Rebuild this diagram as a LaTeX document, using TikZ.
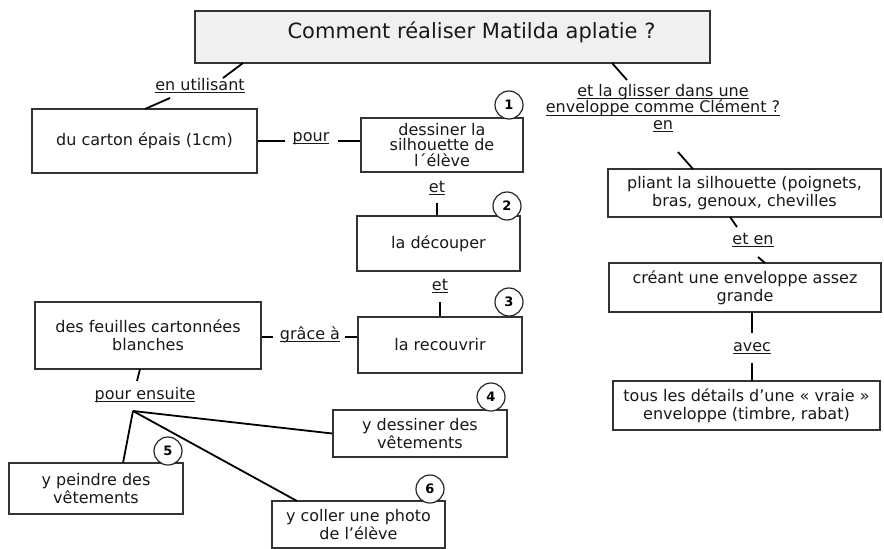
\documentclass[tikz,border=0pt]{standalone}
\usepackage{fontspec}
\setmainfont{DejaVu Sans}
\newcommand\ulab[1]{\setbox0=\hbox{#1}\rlap{\rule[-2.6pt]{\wd0}{0.9pt}}\box0}
\tikzset{
  box/.style={draw=black!80, line width=1.6pt, fill=white, align=center, inner sep=0pt,
    font=\fontsize{16}{18}\selectfont, text=black!90},
  titlebox/.style={box, fill=black!6},
  lbl/.style={font=\fontsize{16}{16.5}\selectfont, align=center, inner sep=0pt, text=black!90,
    text height=12pt, text depth=3pt},
  mlbl/.style={font=\fontsize{16}{16.5}\selectfont, align=center, inner sep=0pt, text=black!90},
  num/.style={circle, draw=black!85, line width=1.2pt, fill=white, minimum size=28pt,
    inner sep=0pt, font=\fontsize{13}{13}\selectfont\bfseries},
  link/.style={line width=1.8pt, black}
}
\begin{document}
\begin{tikzpicture}[x=1pt,y=-1pt]
\useasboundingbox (0,0) rectangle (884,549);
% boxes
\node[titlebox, minimum width=515pt, minimum height=52pt] (title) at (452.5,37) {};
\node[inner sep=0pt, font=\fontsize{21}{24}\selectfont, text=black!90] (ttext) at (471.5,32) {Comment réaliser Matilda aplatie ?};
\node[box, minimum width=225pt, minimum height=64pt] (carton) at (144.5,141) {du carton épais (1cm)};
\node[box, minimum width=162pt, minimum height=54pt, font=\fontsize{16}{15.5}\selectfont] (b1) at (442,145) {dessiner la\\silhouette de\\l´élève};
\node[box, minimum width=163pt, minimum height=55pt] (b2) at (438.5,243.5) {la découper};
\node[box, minimum width=164pt, minimum height=56pt] (b3) at (440,345) {la recouvrir};
\node[box, minimum width=226pt, minimum height=67pt] (feuilles) at (148,335.5) {des feuilles cartonnées\\blanches};
\node[box, minimum width=174pt, minimum height=47pt] (b4) at (420,433.5) {y dessiner des\\vêtements};
\node[box, minimum width=174pt, minimum height=51pt] (b5) at (96,488.5) {y peindre des\\vêtements};
\node[box, minimum width=173pt, minimum height=47pt] (b6) at (358.5,524.5) {y coller une photo\\de l’élève};
\node[box, minimum width=273pt, minimum height=48pt] (pliant) at (744.5,193) {pliant la silhouette (poignets,\\bras, genoux, chevilles};
\node[box, minimum width=272pt, minimum height=49pt] (creant) at (745,287.5) {créant une enveloppe assez\\grande};
\node[box, minimum width=267pt, minimum height=49pt] (tous) at (746.5,405.5) {tous les détails d’une « vraie »\\enveloppe (timbre, rabat)};
% labels
\node[lbl] (lutil) at (200,86) {\ulab{en utilisant}};
\node[lbl] (lpour) at (311,137) {\ulab{pour}};
\node[lbl] (let1) at (437,188) {\ulab{et}};
\node[lbl] (let2) at (440,286) {\ulab{et}};
\node[lbl] (lgrace) at (310,335) {\ulab{grâce à}};
\node[lbl] (lensuite) at (145,395) {\ulab{pour ensuite}};
\node[mlbl, anchor=north] (lglisser) at (663,84) {\ulab{et la glisser dans une}\\\ulab{enveloppe comme Clément ?}\\\ulab{en}};
\node[lbl] (leten) at (753,240) {\ulab{et en}};
\node[lbl] (lavec) at (752,347) {\ulab{avec}};
% free ends
\coordinate (a1) at (243,63); \coordinate (a2) at (223,78);
\coordinate (a3) at (170,98); \coordinate (a4) at (145,109);
\coordinate (p1) at (285,141); \coordinate (p2) at (338,141);
\coordinate (e1) at (437,203); \coordinate (e2) at (440,302);
\coordinate (g1) at (273,337); \coordinate (g2) at (345,337);
\coordinate (f0) at (140,369); \coordinate (f1) at (137,381);
\coordinate (h) at (133,411);
\coordinate (q5) at (123,463); \coordinate (q6) at (297,501);
\coordinate (r1) at (612,63); \coordinate (r2) at (627,80);
\coordinate (r3) at (678,152); \coordinate (r4) at (693,169);
\coordinate (r5) at (730,217); \coordinate (r6) at (737,227);
\coordinate (r7) at (758,257); \coordinate (r8) at (765,263);
\coordinate (v1) at (752,312); \coordinate (v2) at (752,333);
\coordinate (v3) at (752,363); \coordinate (v4) at (752,381);
% connectors
\draw[link] (a1) -- (a2);
\draw[link] (a3) -- (a4);
\draw[link] (carton.east) -- (p1);
\draw[link] (p2) -- (p2 -| b1.west);
\draw[link] (e1) -- (e1 |- b2.north);
\draw[link] (e2) -- (e2 |- b3.north);
\draw[link] (g1 -| feuilles.east) -- (g1);
\draw[link] (g2) -- (g2 -| b3.west);
\draw[link] (f0) -- (f1);
\draw[link] (h) -- (b4.west);
\draw[link] (h) -- (q5);
\draw[link] (h) -- (q6);
\draw[link] (r1) -- (r2);
\draw[link] (r3) -- (r4);
\draw[link] (r5) -- (r6);
\draw[link] (r7) -- (r8);
\draw[link] (v1) -- (v2);
\draw[link] (v3) -- (v4);
% numbers
\node[num] (n1) at (509,105) {1};
\node[num] (n2) at (507,206) {2};
\node[num] (n3) at (509,302) {3};
\node[num] (n4) at (491,397) {4};
\node[num] (n5) at (168,451) {5};
\node[num] (n6) at (430,489) {6};
\end{tikzpicture}
\end{document}
